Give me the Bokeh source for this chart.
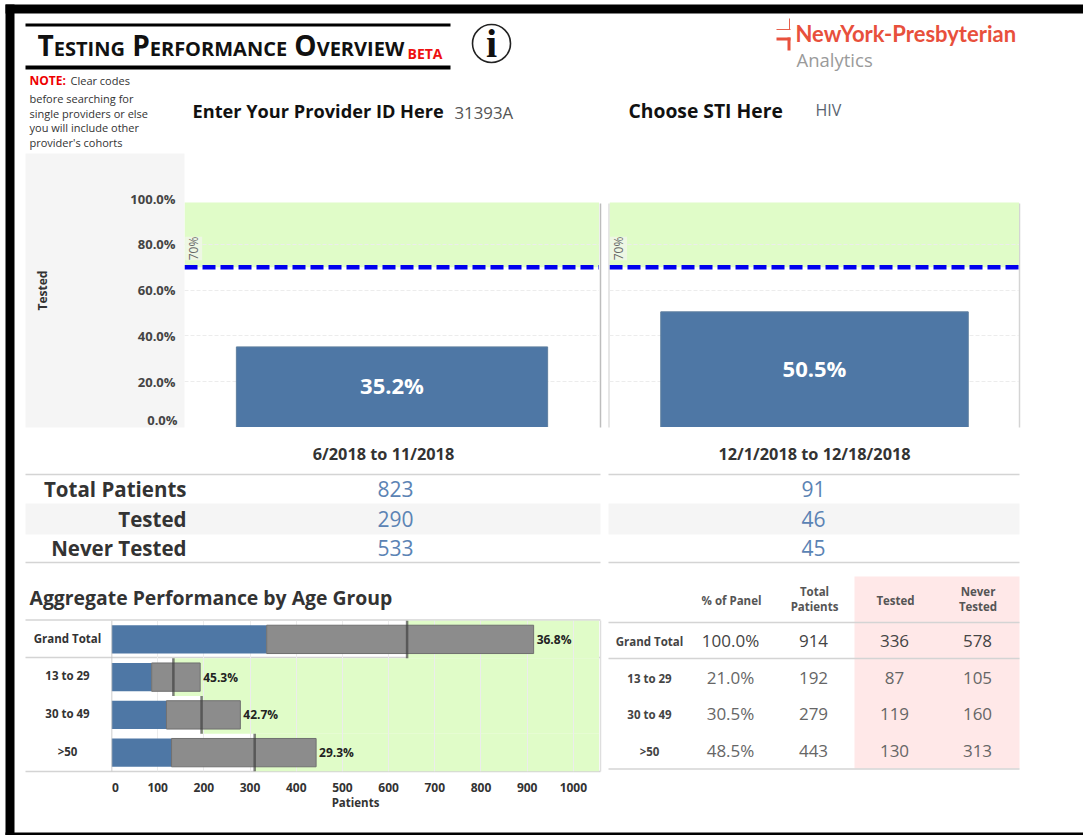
from math import pi
from bokeh.embed import file_html
from bokeh.resources import INLINE
from bokeh.plotting import figure
from bokeh.models import Column
from bokeh.core.properties import value
from bokeh.models import (ColumnDataSource, FactorRange, FixedTicker,
                          PrintfTickFormatter, Range1d, Span)

# ---- data
title_text = "Testing Performance Overview"
note_lines = ["before searching for", "single providers or else", "you will include other", "provider's cohorts"]
periods = ["6/2018 to 11/2018", "12/1/2018 to 12/18/2018"]
tested_pct = [35.2, 50.5]
target_pct = 70
pct_ticks = [20, 40, 60, 80, 100]
summary_rows = ["Total Patients", "Tested", "Never Tested"]
summary_a = ["823", "290", "533"]
summary_b = ["91", "46", "45"]
age_groups = ["Grand Total", "13 to 29", "30 to 49", ">50"]
age_tested = [336, 87, 119, 130]
age_never = [578, 105, 160, 313]
age_total = [914, 192, 279, 443]
age_target = [640, 134, 195, 310]
age_tested_pct = ["36.8%", "45.3%", "42.7%", "29.3%"]
age_panel_pct = ["100.0%", "21.0%", "30.5%", "48.5%"]
patient_ticks = [100, 200, 300, 400, 500, 600, 700, 800, 900, 1000]

FONT = "Open Sans"
BLUE = "#4e77a5"
GREEN = "#e0fcc8"


def place(fig, x, y, **extra):
    fig.frame_align = False
    fig.styles = dict({"position": "absolute", "left": f"{x}px", "top": f"{y}px"}, **extra)


def txt(p, x, y, s, size, color="#333333", bold=False, align="left", base="middle", angle=0, font=FONT):
    p.text(x=[x], y=[y - 1], text=[s], text_font=value(font), text_font_size=f"{size}px",
           text_color=color, text_font_style="bold" if bold else "normal",
           text_align=align, text_baseline=base, angle=angle)


# ---- background sheet, in page pixels
bg = figure(width=1083, height=835, x_range=Range1d(0, 1083), y_range=Range1d(835, 0),
            output_backend="svg", toolbar_location=None, min_border=0)
bg.axis.visible = False
bg.grid.visible = False
bg.outline_line_color = None
bg.background_fill_color = "white"
bg.border_fill_color = "white"


def box(l, r, t, b, color):
    bg.quad(left=[l], right=[r], top=[t], bottom=[b], fill_color=color, line_color=None)


def hline(l, r, y, color="#d4d4d4", w=1.5):
    bg.line(x=[l, r], y=[y, y], line_color=color, line_width=w)


def vline(x, t, b, color="#d0d0d0", w=1.5):
    bg.line(x=[x, x], y=[t, b], line_color=color, line_width=w)


# frame
box(5, 1083, 4, 13, "black")
box(5, 14, 4, 835, "black")
box(5, 1083, 832, 835, "black")
# header rules
box(25, 450, 23, 26, "black")
box(25, 450, 65, 69, "black")
txt(bg, 407, 54, "BETA", 14, "#ee1111", True)
# info icon
bg.circle(x=[491], y=[43], radius=19, fill_color="white", line_color="#222222", line_width=1.6)
txt(bg, 491, 44, "i", 40, "#111111", True, align="center", font="Liberation Serif")
# note
txt(bg, 29, 81, "NOTE:", 12, "#ee0000", True)
txt(bg, 70, 81, "Clear codes", 11, "#333333")
for i, line in enumerate(note_lines):
    txt(bg, 29, [99, 113.5, 128, 143][i], line, 11, "#333333")
# prompts
txt(bg, 192, 111, "Enter Your Provider ID Here", 18.2, "#111111", True)
txt(bg, 454, 113, "31393A", 16.8, "#555555")
txt(bg, 628, 111, "Choose STI Here", 19.3, "#111111", True)
txt(bg, 815, 110, "HIV", 16, "#5a6470")
# logo
box(776, 790, 28.5, 29.5, "#e8604c")
box(788.5, 789.5, 18, 29, "#e8604c")
box(776, 790, 37, 40, "#e8503c")
box(787, 790, 37, 50, "#e8503c")
txt(bg, 795, 34, "NewYork-Presbyterian", 22, "#e8503c", True, font="Lato")
txt(bg, 796, 60, "Analytics", 18.5, "#9a9a9a")
# grey axis panel of the first chart
box(25, 184, 153, 427, "#f5f5f5")
txt(bg, 177, 420, "0.0%", 13, "#444444", True, align="right")
# vertical rules beside the charts
vline(600, 203, 427, "#bdbdbd")
vline(608.5, 203, 427, "#dedede")
vline(1019, 203, 427, "#d4d4d4")
# summary table
box(25, 600, 503, 534, "#f5f5f5")
box(608, 1019, 503, 534, "#f5f5f5")
for l, r in [(25, 600), (608, 1019)]:
    hline(l, r, 474)
    hline(l, r, 562)
txt(bg, 383, 454, periods[0], 16.3, "#333333", True, align="center")
txt(bg, 814, 454, periods[1], 16.3, "#333333", True, align="center")
for i, name in enumerate(summary_rows):
    y = [489, 519, 548][i]
    txt(bg, 186, y, name, 20.5, "#333333", True, align="right")
    txt(bg, 395, y, summary_a[i], 21, "#5b83b4", align="center")
    txt(bg, 813, y, summary_b[i], 21, "#5b83b4", align="center")
txt(bg, 29, 598, "Aggregate Performance by Age Group", 19.4, "#333333", True)
# age rows
hline(25, 600, 619.5)
hline(25, 600, 657)
hline(25, 600, 771)
for i, name in enumerate(age_groups):
    txt(bg, 67, [638.5, 676, 714, 751.5][i], name, 11.5, "#333333", True, align="center")
txt(bg, 115, 788, "0", 12, "#333333", True, align="center")
# right table
box(854, 1019, 576, 768, "#ffe8e8")
vline(600, 620, 771, "#dedede")
hline(608, 1019, 622)
hline(608, 1019, 658)
hline(608, 1019, 768.5)
txt(bg, 731, 601, "% of Panel", 11.5, "#555555", True, align="center")
txt(bg, 814, 592, "Total", 11.5, "#555555", True, align="center")
txt(bg, 814, 607, "Patients", 11.5, "#555555", True, align="center")
txt(bg, 895, 601, "Tested", 11.5, "#555555", True, align="center")
txt(bg, 977.5, 592, "Never", 11.5, "#555555", True, align="center")
txt(bg, 977.5, 607, "Tested", 11.5, "#555555", True, align="center")
for i, name in enumerate(age_groups):
    y = [641, 678, 714, 751][i]
    c = "#444444" if i == 0 else "#666666"
    txt(bg, 649, y + 1, name, 11.5, "#444444", True, align="center")
    txt(bg, 730, y, age_panel_pct[i], 17, c, align="center")
    txt(bg, 813, y, str(age_total[i]), 17, c, align="center")
    txt(bg, 894, y, str(age_tested[i]), 17, c, align="center")
    txt(bg, 977, y, str(age_never[i]), 17, c, align="center")
place(bg, 0, 0)

# ---- title with real small capitals
tf = figure(width=380, height=44, x_range=Range1d(0, 380), y_range=Range1d(44, 0),
            output_backend="svg", toolbar_location=None, min_border=0)
tf.axis.visible = False
tf.grid.visible = False
tf.outline_line_color = None
tf.background_fill_color = None
tf.border_fill_color = None
txt(tf, 0, 23, title_text, 28, "#111111", True)
place(tf, 37, 22, **{"font-variant": "small-caps"})


# ---- the two tested-share bar charts
def share_chart(val, left_border, width):
    p = figure(width=width, height=274, x_range=Range1d(0, 1), y_range=Range1d(0, 274 / 2.29),
               output_backend="svg", toolbar_location=None,
               min_border=0, min_border_left=left_border)
    p.outline_line_color = None
    p.background_fill_color = None
    p.border_fill_color = None
    p.xaxis.visible = False
    p.xgrid.visible = False
    p.ygrid.ticker = FixedTicker(ticks=pct_ticks[:-1])
    p.ygrid.grid_line_color = "#ececec"
    p.ygrid.grid_line_dash = "4 2"
    p.quad(left=[0], right=[1], bottom=[target_pct], top=[98.3], fill_color=GREEN,
           line_color=None, level="image")
    p.vbar(x=[0.5], top=[val], width=0.75, fill_color=BLUE, line_color="#5f7f9f", line_width=1)
    p.line(x=[0, 1], y=[target_pct, target_pct], line_color="#0000ee", line_width=4.5, line_dash="13 5")
    p.text(x=[0.5], y=[val / 2], text=[f"{val}%"], y_offset=-2, text_font=value(FONT), text_font_size="22px",
           text_font_style="bold", text_color="white", text_align="center", text_baseline="middle")
    p.text(x=[0.022], y=[73], text=[f"{target_pct}%"], text_font=value(FONT), text_font_size="12px",
           text_color="#666666", text_align="left", text_baseline="middle", angle=pi / 2,
           background_fill_color="#eef7e4")
    return p


c1 = share_chart(tested_pct[0], 160, 575)
ax = c1.yaxis[0]
ax.ticker = FixedTicker(ticks=pct_ticks)
ax.formatter = PrintfTickFormatter(format="%.1f%%")
ax.axis_line_color = None
ax.major_tick_line_color = None
ax.minor_tick_line_color = None
ax.major_label_standoff = 3
ax.major_label_text_font = FONT
ax.major_label_text_font_size = "13px"
ax.major_label_text_font_style = "bold"
ax.major_label_text_color = "#444444"
ax.axis_label = "Tested"
ax.axis_label_text_font = FONT
ax.axis_label_text_font_size = "12px"
ax.axis_label_text_font_style = "bold"
ax.axis_label_text_color = "#333333"
ax.axis_label_standoff = 76
place(c1, 24, 153)

c2 = share_chart(tested_pct[1], 0, 410)
c2.yaxis.visible = False
place(c2, 609, 153)

# ---- age group bullet chart
x_end = 489 / 0.4628
src = ColumnDataSource(dict(age=age_groups, tested=age_tested, total=age_total, target=age_target,
                            pct=age_tested_pct, zero=[0] * 4, end=[x_end] * 4))
c3 = figure(width=575, height=196, x_range=Range1d(0, x_end),
            y_range=FactorRange(factors=list(reversed(age_groups))),
            output_backend="svg", toolbar_location=None, min_border=0,
            min_border_left=87, min_border_bottom=45)
c3.outline_line_color = None
c3.background_fill_color = None
c3.border_fill_color = None
c3.yaxis.visible = False
c3.ygrid.visible = False
c3.xgrid.ticker = FixedTicker(ticks=patient_ticks)
c3.xgrid.grid_line_color = "#ececec"
c3.hbar(y="age", left="target", right="end", height=1, source=src, fill_color=GREEN,
        line_color=None, level="image")
c3.hbar(y="age", left="zero", right="tested", height=0.75, source=src, fill_color=BLUE, line_color=None)
c3.hbar(y="age", left="tested", right="total", height=0.75, source=src, fill_color="#8c8c8c",
        line_color="#707070", line_width=1)
c3.rect(x="target", y="age", width=2.5, height=1, width_units="screen", source=src,
        fill_color="#3c3c3c", fill_alpha=0.65, line_color=None)
c3.text(x="total", y="age", text="pct", source=src, x_offset=3, text_font=value(FONT),
        text_font_size="12px", text_font_style="bold", text_color="#222222",
        text_baseline="middle")
c3.add_layout(Span(location=0, dimension="height", line_color="#bdbdbd", line_width=1.5))
xa = c3.xaxis[0]
xa.ticker = FixedTicker(ticks=patient_ticks)
xa.axis_line_color = None
xa.major_tick_line_color = None
xa.minor_tick_line_color = None
xa.major_label_standoff = 5
xa.major_label_text_font = FONT
xa.major_label_text_font_size = "12px"
xa.major_label_text_font_style = "bold"
xa.major_label_text_color = "#333333"
xa.axis_label = "Patients"
xa.axis_label_standoff = 0
xa.axis_label_text_font = FONT
xa.axis_label_text_font_size = "11.5px"
xa.axis_label_text_font_style = "bold"
xa.axis_label_text_color = "#333333"
place(c3, 24, 620)

root = Column(children=[bg, tf, c1, c2, c3], width=1083, height=835, sizing_mode="fixed")
open("out.html", "w").write(file_html(root, INLINE))
